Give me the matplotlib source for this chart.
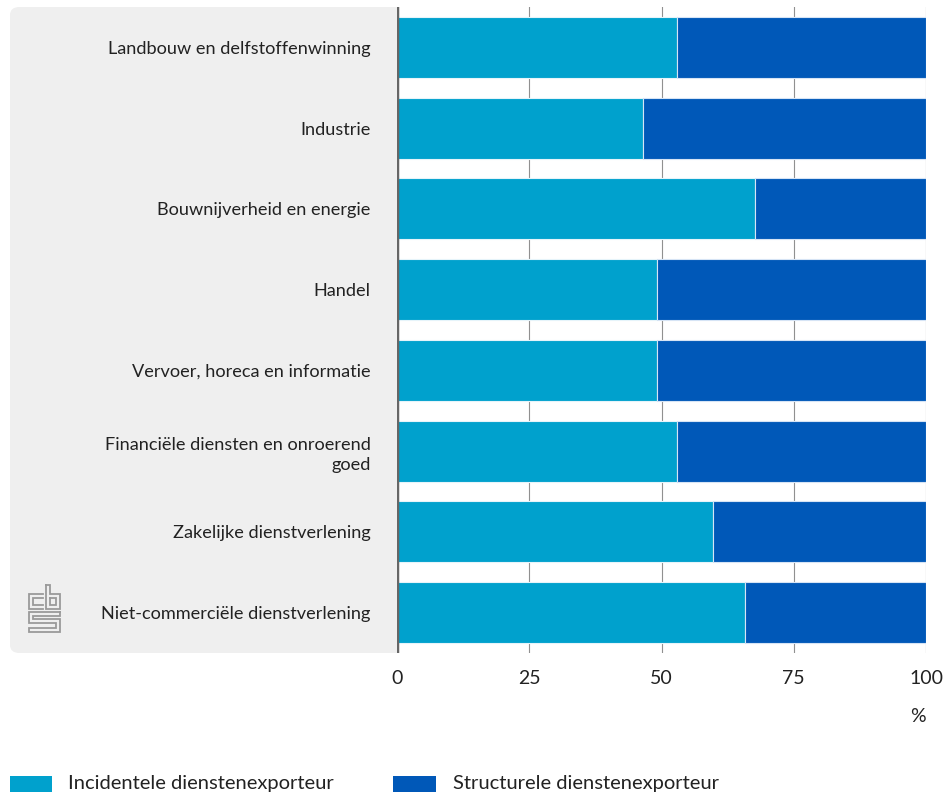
import numpy as np
import matplotlib.pyplot as plt
from matplotlib.patches import FancyBboxPatch, Rectangle

plt.rcParams['font.family'] = ['Lato', 'DejaVu Sans']

sectoren = [
    "Landbouw en delfstoffenwinning",
    "Industrie",
    "Bouwnijverheid en energie",
    "Handel",
    "Vervoer, horeca en informatie",
    "Financiële diensten en onroerend\ngoed",
    "Zakelijke dienstverlening",
    "Niet-commerciële dienstverlening",
]
incidenteel = [52.9, 46.5, 67.6, 49.2, 49.2, 52.9, 59.7, 65.7]
structureel = [100 - v for v in incidenteel]
xticks = [0, 25, 50, 75, 100]

licht = "#00a1cd"
donker = "#0058b8"
grijs = "#efefef"
tekst = "#222222"

fig = plt.figure(figsize=(9.5, 7.99), dpi=100)
W, H = 950, 799

# grijze achtergrond achter de categorielabels
bg = FancyBboxPatch((10 / W, 1 - 653 / H), (397 - 10) / W + 0.02, (653 - 7) / H,
                    boxstyle="round,pad=0,rounding_size=0.01",
                    transform=fig.transFigure, facecolor=grijs, edgecolor="none",
                    zorder=-1)
fig.patches.append(bg)

ax = fig.add_axes([397 / W, 1 - 653 / H, (926 - 397) / W, (653 - 7) / H])
ax.set_facecolor("white")

y = np.arange(len(sectoren))
ax.barh(y, incidenteel, height=0.755, color=licht, edgecolor="#e6f4fa",
        linewidth=0.8, zorder=3, label="Incidentele dienstenexporteur")
ax.barh(y, structureel, left=incidenteel, height=0.755, color=donker,
        edgecolor="#d6e4f5", linewidth=0.8, zorder=3,
        label="Structurele dienstenexporteur")

ax.set_xlim(0, 100)
ax.set_ylim(len(sectoren) - 0.5, -0.5)
ax.set_yticks(y)
ax.set_yticklabels(sectoren, fontsize=13.1, color=tekst, ha="right",
                   multialignment="right", linespacing=1.3)
ax.set_xticks(xticks)
ax.set_xticklabels([str(t) for t in xticks], fontsize=14, color=tekst)
ax.tick_params(axis="y", length=0, pad=19)
ax.tick_params(axis="x", length=0, pad=12)
for t in xticks[1:]:
    ax.axvline(t, color="#909090", linewidth=0.8, zorder=1)
ax.axvline(0, color="#666666", linewidth=2.5, zorder=4)
for s in ax.spines.values():
    s.set_visible(False)

fig.text(926 / W, 1 - 716 / H, "%", ha="right", va="center", fontsize=14,
         color=tekst)

# legenda
fig.patches.append(Rectangle((10 / W, 1 - 792 / H), 42 / W, 16 / H,
                             transform=fig.transFigure, facecolor=licht))
fig.text(68 / W, 1 - 784 / H, "Incidentele dienstenexporteur", va="center",
         fontsize=14.5, color=tekst)
fig.patches.append(Rectangle((393 / W, 1 - 792 / H), 43 / W, 16 / H,
                             transform=fig.transFigure, facecolor=donker))
fig.text(453 / W, 1 - 784 / H, "Structurele dienstenexporteur", va="center",
         fontsize=14.5, color=tekst)

# cbs-logo linksonder
lg = fig.add_axes([28 / W, 1 - 633 / H, 33 / W, 49 / H])
lg.set_xlim(0, 33)
lg.set_ylim(49, 0)
lg.axis("off")
kl = "#9a9a9a"
lw = 1.3
lijnen = [
    # c
    [(15, 10), (1, 10), (1, 25), (15, 25)],
    [(15, 14), (5, 14), (5, 21), (15, 21)],
    # b
    [(18, 1), (18, 25), (32, 25), (32, 10), (22, 10), (22, 1), (18, 1)],
    [(22, 14), (28, 14), (28, 21), (22, 21), (22, 14)],
    # s
    [(32, 28), (1, 28), (1, 39), (28, 39), (28, 44), (1, 44), (1, 48), (32, 48),
     (32, 35), (5, 35), (5, 32), (32, 32), (32, 28)],
]
for pts in lijnen:
    xs, ys = zip(*pts)
    lg.plot(xs, ys, color=kl, linewidth=lw, solid_joinstyle="miter")

fig.savefig("out.png", dpi=100)
